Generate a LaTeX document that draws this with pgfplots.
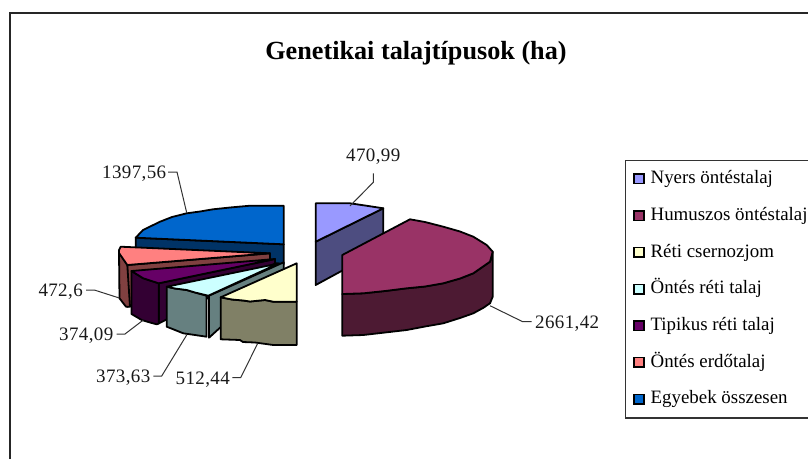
\documentclass[border=0pt]{standalone}
\usepackage{fontspec}
\setmainfont{Liberation Serif}
\newfontfamily\labfont[LetterSpace=2]{Liberation Serif}
\usepackage{pgfplots}
\pgfplotsset{compat=1.18}
\definecolor{c1}{HTML}{9999FF}\definecolor{d1}{HTML}{4D4D80}
\definecolor{c2}{HTML}{993366}\definecolor{d2}{HTML}{4D1A33}
\definecolor{c3}{HTML}{FFFFCC}\definecolor{d3}{HTML}{808066}
\definecolor{c4}{HTML}{CCFFFF}\definecolor{d4}{HTML}{668080}
\definecolor{c5}{HTML}{660066}\definecolor{d5}{HTML}{330033}
\definecolor{c6}{HTML}{FF8080}\definecolor{d6}{HTML}{804040}
\definecolor{c7}{HTML}{0066CC}\definecolor{d7}{HTML}{003366}
\newcommand{\lab}[3]{\node[anchor=base west,inner sep=0pt,text=black!90,font=\fontsize{19}{21}\selectfont\labfont] at (axis cs:#1,#2) {#3};}
\pgfplotsset{
  pie/.style={forget plot,draw=black,line width=1.8pt,line join=round,fill=#1},
  leader/.style={forget plot,draw=black!80,line width=1pt,no marks},
  leg/.style={legend image code/.code={\draw[draw=black,line width=1.5pt,fill=#1] (0pt,-4.5pt) rectangle (10pt,5pt);}}
}
\begin{document}
\begin{tikzpicture}
\useasboundingbox (0,0) rectangle (808pt,459pt);
\begin{axis}[
  at={(0,0)},anchor=south west,
  scale only axis,width=808pt,height=459pt,
  xmin=0,xmax=808,ymin=0,ymax=459,y dir=reverse,
  hide axis,clip=false,
  legend cell align=left,
  legend style={at={(axis cs:624.7,160)},anchor=north west,draw=black!80,line width=1.2pt,fill=white,
    font=\fontsize{18.9}{21}\selectfont,inner xsep=8pt,inner ysep=9.6pt,
    row sep=18.7pt,
    nodes={inner sep=0pt,text height=13.5pt,text depth=4.5pt},
    /tikz/every odd column/.append style={column sep=5.8pt}},
]
% legend
\addlegendimage{leg=c1}\addlegendentry{Nyers öntéstalaj}
\addlegendimage{leg=c2}\addlegendentry{Humuszos öntéstalaj}
\addlegendimage{leg=c3}\addlegendentry{Réti csernozjom}
\addlegendimage{leg=c4}\addlegendentry{Öntés réti talaj}
\addlegendimage{leg=c5}\addlegendentry{Tipikus réti talaj}
\addlegendimage{leg=c6}\addlegendentry{Öntés erdőtalaj}
\addlegendimage{leg=c7}\addlegendentry{Egyebek összesen}

% Egyebek összesen
\addplot[pie=d7] coordinates {(135.7,237.7)(283.7,244.3)(283.7,264)(135.7,250)} -- cycle;
\addplot[pie=c7] coordinates {(135.7,237.7)(143,230)(160,221.7)(172,217)(186.7,213.3)(200,211.5)(213,209.3)(230,207.5)(250,205.7)(283.7,205.7)(283.7,244.3)} -- cycle;
% Öntés erdőtalaj
\addplot[pie=d6] coordinates {(127.3,265)(270,253.3)(270,262)(127.3,306.7)} -- cycle;
\addplot[pie=d6] coordinates {(119,251.7)(119.5,298.3)(126,306.7)(130,306.7)(127.3,265)} -- cycle;
\addplot[pie=c6] coordinates {(120.7,246.7)(270,253.3)(127.3,265)(125,261.7)(119,253)(119,250)} -- cycle;
% Tipikus réti talaj
\addplot[pie=d5] coordinates {(158.7,283.3)(275,259)(275,263.5)(158.7,323.5)} -- cycle;
\addplot[pie=d5] coordinates {(131.5,271)(131.5,314)(141.7,320)(150,322.5)(156.7,324.3)(158.7,323.5)(158.7,283.3)(143.3,278.3)} -- cycle;
\addplot[pie=c5] coordinates {(131.5,271)(275,259)(158.7,283.3)(143.3,278.3)} -- cycle;
% Öntés réti talaj
\addplot[pie=d4] coordinates {(209,295.7)(283.7,262.3)(283.7,270)(209,337.7)} -- cycle;
\addplot[pie=d4] coordinates {(166.7,286.7)(166.7,326.7)(175,330)(183.3,333.3)(195,335)(206.5,336.7)(206.5,295.7)(195,292.5)(186.7,290)(175,288.5)} -- cycle;
\addplot[pie=c4] coordinates {(166.7,286.7)(278.5,263.5)(208.3,295.7)(195,292.5)(186.7,290)(175,288.5)} -- cycle;
% Réti csernozjom
\addplot[pie=d3] coordinates {(220.7,297.3)(220.7,339.3)(240,340)(243,342)(255,342.5)(273.3,345)(296.7,345)(296.7,301.7)(273.3,301.7)(265,300)(250,301.5)(243.3,300.5)(232,299.5)} -- cycle;
\addplot[pie=c3] coordinates {(220.7,297.3)(296.7,263.3)(296.7,301.7)(273.3,301.7)(265,300)(250,301.5)(243.3,300.5)(232,299.5)} -- cycle;
% Nyers öntéstalaj
\addplot[pie=d1] coordinates {(315.7,241.7)(383.3,208.3)(383.3,248.3)(315.7,285)} -- cycle;
\addplot[pie=c1] coordinates {(315.7,203.3)(350,203.3)(365,205.5)(383.3,208.3)(315.7,241.7)} -- cycle;
% Humuszos öntéstalaj
\addplot[pie=d2] coordinates {(342.3,294)(342.3,335.7)(363.3,335)(385,332.5)(406.7,330)(425,326.5)(443.3,323.3)(460,318)(473.3,313.3)(483,308)(490,303.3)(492.7,296.7)(492.7,251.7)(490,261.7)(473.3,273.3)(460,278.5)(443.3,283.3)(425,286.5)(406.7,288.3)(385,291)(363.3,293.3)} -- cycle;
\addplot[pie=c2] coordinates {(342.3,255)(410,219.3)(425,222)(443.3,226.7)(460,231.5)(473.3,236.7)(486.7,245)(492.7,251.7)(490,261.7)(473.3,273.3)(460,278.5)(443.3,283.3)(425,286.5)(406.7,288.3)(385,291)(363.3,293.3)(342.3,294)} -- cycle;

% leader lines
\addplot[leader] coordinates {(168,172)(177,172)(186.7,212.7)};
\addplot[leader] coordinates {(86,290)(94.3,290)(119.3,298)};
\addplot[leader] coordinates {(116.7,334)(125,334)(143.3,320)};
\addplot[leader] coordinates {(153.3,376)(161.7,376)(186.7,335)};
\addplot[leader] coordinates {(232.3,377.7)(240.7,377.7)(257.7,343.3)};
\addplot[leader] coordinates {(373.3,173.3)(373.3,182.3)(350,206)};
\addplot[leader] coordinates {(531.7,321.7)(522.7,321.7)(490,305.7)};

% frame
\addplot[forget plot,draw=black!85,line width=1.4pt] coordinates {(10,459)(10,13)(808,13)};

\lab{346}{161.5}{470,99}
\lab{102}{178.5}{1397,56}
\lab{38.3}{296.5}{472,6}
\lab{59}{340}{374,09}
\lab{96}{382.5}{373,63}
\lab{175.5}{384.5}{512,44}
\lab{535}{328}{2661,42}

\node[anchor=base,inner sep=0pt,font=\fontsize{26.2}{30}\selectfont\bfseries] at (axis cs:416,59) {Genetikai talajtípusok (ha)};
\end{axis}
\end{tikzpicture}
\end{document}
